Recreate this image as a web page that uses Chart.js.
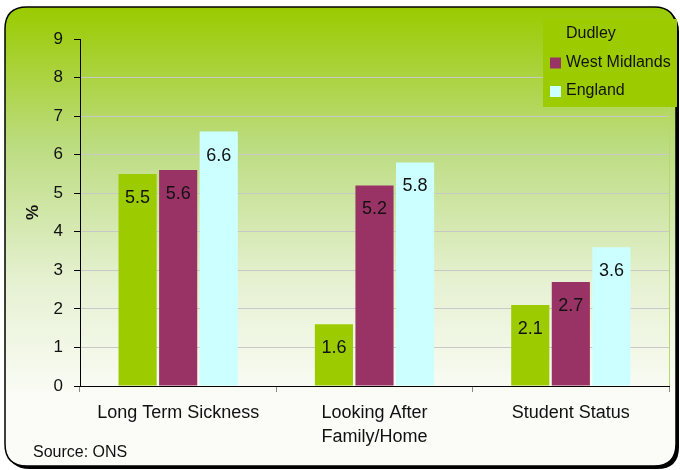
<!DOCTYPE html>
<html>
<head>
<meta charset="utf-8">
<script src="https://cdn.jsdelivr.net/npm/chart.js@4"></script>
<style>
  html, body { margin: 0; padding: 0; background: #fff; }
  #wrap { width: 680px; height: 470px; }
</style>
</head>
<body>
<div id="wrap"><canvas id="barChart" width="680" height="470"></canvas></div>
<script>
const categories = ['Long Term Sickness', ['Looking After', 'Family/Home'], 'Student Status']
const seriesNames = ['Dudley', 'West Midlands', 'England']
const dudley = [5.5, 1.6, 2.1]
const westMidlands = [5.6, 5.2, 2.7]
const england = [6.6, 5.8, 3.6]
const yTicks = [0, 1, 2, 3, 4, 5, 6, 7, 8, 9]
const colors = ['#9ccc00', '#993366', '#ccffff']

const FONT = 'Arial, "Liberation Sans", sans-serif'

function roundRect(ctx, x, y, w, h, r) {
  ctx.beginPath()
  ctx.moveTo(x + r, y)
  ctx.lineTo(x + w - r, y)
  ctx.quadraticCurveTo(x + w, y, x + w, y + r)
  ctx.lineTo(x + w, y + h - r)
  ctx.quadraticCurveTo(x + w, y + h, x + w - r, y + h)
  ctx.lineTo(x + r, y + h)
  ctx.quadraticCurveTo(x, y + h, x, y + h - r)
  ctx.lineTo(x, y + r)
  ctx.quadraticCurveTo(x, y, x + r, y)
  ctx.closePath()
}

// panel with the green fade + rounded border
const panelBg = {
  id: 'panelBg',
  beforeDraw(chart) {
    const ctx = chart.ctx
    ctx.save()
    // shadow
    roundRect(ctx, 8, 10, 671, 459, 22)
    ctx.fillStyle = '#000'
    ctx.fill()
    const g = ctx.createLinearGradient(0, 8, 0, 400)
    g.addColorStop(0, '#9acb00')
    g.addColorStop(0.35, '#bcdc80')
    g.addColorStop(0.7, '#e6f1d2')
    g.addColorStop(1, '#fbfcf7')
    roundRect(ctx, 5, 7, 671, 459, 22)
    ctx.fillStyle = g
    ctx.fill()
    ctx.lineWidth = 1.5
    ctx.strokeStyle = '#000'
    ctx.stroke()
    ctx.restore()
  }
}

const extras = {
  id: 'extras',
  afterDatasetsDraw(chart) {
    const ctx = chart.ctx
    ctx.save()
    ctx.font = '18px ' + FONT
    ctx.fillStyle = '#111'
    ctx.textAlign = 'center'
    ctx.textBaseline = 'middle'
    chart.data.datasets.forEach((ds, i) => {
      chart.getDatasetMeta(i).data.forEach((bar, j) => {
        ctx.fillText(ds.data[j].toFixed(1), bar.x, bar.y + 24)
      })
    })
    ctx.restore()
  },
  afterDraw(chart) {
    const ctx = chart.ctx
    const area = chart.chartArea
    ctx.save()
    // right edge of the plot area
    ctx.strokeStyle = '#b7d86a'
    ctx.lineWidth = 1
    ctx.beginPath()
    ctx.moveTo(area.right + 0.5, area.top)
    ctx.lineTo(area.right + 0.5, area.bottom)
    ctx.stroke()

    // legend
    ctx.fillStyle = '#9ccc00'
    ctx.fillRect(543, 19, 134, 88)
    ctx.font = '16px ' + FONT
    ctx.textAlign = 'left'
    ctx.textBaseline = 'middle'
    seriesNames.forEach((name, i) => {
      const y = 34 + i * 28.5
      ctx.fillStyle = colors[i]
      ctx.fillRect(550, y - 5, 11, 11)
      ctx.fillStyle = '#111'
      ctx.fillText(name, 566, y)
    })

    ctx.font = '16px ' + FONT
    ctx.fillStyle = '#111'
    ctx.fillText('Source: ONS', 33, 453)
    ctx.restore()
  }
}

const chart = new Chart(document.getElementById('barChart'), {
  type: 'bar',
  data: {
    labels: categories,
    datasets: seriesNames.map((name, i) => ({
      label: name,
      data: [dudley, westMidlands, england][i],
      backgroundColor: colors[i],
      borderWidth: 0,
      barPercentage: 0.94,
      categoryPercentage: 0.62
    }))
  },
  options: {
    responsive: false,
    animation: false,
    layout: { padding: { left: 0, top: 39, right: 11, bottom: 0 } },
    plugins: {
      legend: { display: false },
      tooltip: { enabled: false }
    },
    scales: {
      x: {
        afterFit: (s) => { s.height = 84 },
        grid: {
          offset: true,
          drawOnChartArea: false,
          tickLength: 6,
          tickColor: '#888'
        },
        border: { color: '#000', width: 1 },
        ticks: {
          color: '#111',
          padding: 9,
          font: { family: FONT, size: 18, lineHeight: '24px' }
        }
      },
      y: {
        min: 0,
        max: 9,
        afterFit: (s) => { s.width = 80 },
        afterBuildTicks: (s) => { s.ticks = yTicks.map(v => ({ value: v })) },
        grid: {
          color: (c) => (c.tick && (c.tick.value === 0 || c.tick.value === 9)) ? 'rgba(0,0,0,0)' : '#c8c8c8',
          tickColor: '#000',
          tickLength: 6
        },
        border: { color: '#000', width: 1 },
        title: {
          display: true,
          text: '%',
          color: '#111',
          font: { family: FONT, size: 17, weight: 'bold' },
          padding: { top: 23, bottom: 0 }
        },
        ticks: {
          color: '#111',
          padding: 11,
          font: { family: FONT, size: 17 }
        }
      }
    }
  },
  plugins: [panelBg, extras]
})
</script>
</body>
</html>
